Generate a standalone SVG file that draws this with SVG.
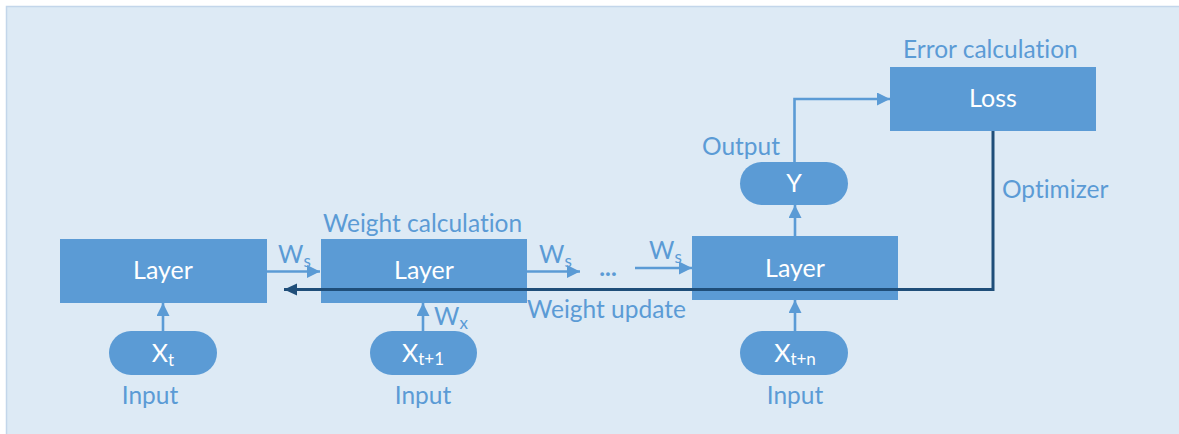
<svg xmlns="http://www.w3.org/2000/svg" width="1179" height="434" viewBox="0 0 1179 434">
  <defs>
    <style>
      text { font-variant-ligatures: none; }
      .box { fill: #5B9BD5; }
      .in { fill: #FFFFFF; font-family: Lato, "Liberation Sans", sans-serif; font-size: 25px; text-anchor: middle; }
      .lbl { fill: #5B9BD5; font-family: Lato, "Liberation Sans", sans-serif; font-size: 24.5px; }
      .mid { text-anchor: middle; }
      .sub { font-size: 17px; }
      .dots { font-weight: bold; }
      .flow { fill: none; stroke: #5B9BD5; stroke-width: 2.6; }
      .back { fill: none; stroke: #1F4E79; stroke-width: 3; }
    </style>
    <marker id="head" markerUnits="userSpaceOnUse" markerWidth="14" markerHeight="14" refX="13" refY="6.5" orient="auto">
      <path d="M0,0 L13,6.5 L0,13 Z" fill="#5B9BD5"/>
    </marker>
    <marker id="headDark" markerUnits="userSpaceOnUse" markerWidth="14" markerHeight="14" refX="13" refY="6" orient="auto">
      <path d="M0,0 L13,6 L0,12 Z" fill="#1F4E79"/>
    </marker>
  </defs>

  <!-- canvas -->
  <rect x="0" y="0" width="1179" height="434" fill="#FFFFFF"/>
  <rect x="6.5" y="6.5" width="1180" height="440" fill="#DDEAF5" stroke="#C3D6EA" stroke-width="1.5"/>

  <!-- connectors -->
  <g id="connectors">
    <line class="flow" x1="163" y1="331" x2="163" y2="303" marker-end="url(#head)"/>
    <line class="flow" x1="423" y1="331" x2="423" y2="303" marker-end="url(#head)"/>
    <line class="flow" x1="795" y1="331" x2="795" y2="300" marker-end="url(#head)"/>
    <line class="flow" x1="795" y1="236" x2="795" y2="205" marker-end="url(#head)"/>
    <line class="flow" x1="267" y1="271.5" x2="320" y2="271.5" marker-end="url(#head)"/>
    <line class="flow" x1="527" y1="271.5" x2="580" y2="271.5" marker-end="url(#head)"/>
    <line class="flow" x1="635" y1="268" x2="692" y2="268" marker-end="url(#head)"/>
    <polyline class="flow" points="794.5,162 794.5,99 890,99" marker-end="url(#head)"/>

    <text class="lbl" x="278" y="263">W<tspan class="sub" dy="4">s</tspan></text>
    <text class="lbl" x="539" y="263">W<tspan class="sub" dy="4">s</tspan></text>
    <text class="lbl" x="649" y="259">W<tspan class="sub" dy="4">s</tspan></text>
    <text class="lbl" x="434" y="325">W<tspan class="sub" dy="4">x</tspan></text>
    <text class="lbl mid dots" x="608" y="276">...</text>
    <text class="lbl" x="702" y="155">Output</text>
  </g>

  <!-- nodes -->
  <g id="layer1">
    <rect class="box" x="60" y="239" width="207" height="64"/>
    <text class="in" x="163" y="279">Layer</text>
  </g>
  <g id="layer2">
    <rect class="box" x="321" y="239" width="206" height="64"/>
    <text class="in" x="424" y="279">Layer</text>
    <text class="lbl" x="323" y="232">Weight calculation</text>
  </g>
  <g id="layer3">
    <rect class="box" x="692" y="236" width="206" height="64"/>
    <text class="in" x="795" y="277">Layer</text>
  </g>
  <g id="loss">
    <rect class="box" x="890" y="67" width="206" height="64"/>
    <text class="in" x="993" y="107">Loss</text>
    <text class="lbl" x="903" y="58">Error calculation</text>
  </g>
  <g id="output-y">
    <rect class="box" x="740" y="162" width="108" height="43" rx="21.5"/>
    <text class="in" x="794" y="192">Y</text>
  </g>
  <g id="input-t">
    <rect class="box" x="109" y="331" width="108" height="44" rx="22"/>
    <text class="in" x="163" y="362">X<tspan class="sub" dy="4">t</tspan></text>
    <text class="lbl mid" x="150" y="404">Input</text>
  </g>
  <g id="input-t1">
    <rect class="box" x="370" y="331" width="107" height="44" rx="22"/>
    <text class="in" x="423" y="362">X<tspan class="sub" dy="3">t+1</tspan></text>
    <text class="lbl mid" x="423" y="404">Input</text>
  </g>
  <g id="input-tn">
    <rect class="box" x="740" y="331" width="108" height="44" rx="22"/>
    <text class="in" x="795" y="362">X<tspan class="sub" dy="3">t+n</tspan></text>
    <text class="lbl mid" x="795" y="404">Input</text>
  </g>

  <!-- weight update path from the loss back to the first layer -->
  <g id="update">
    <polyline class="back" points="993,131 993,289.5 284,289.5" marker-end="url(#headDark)"/>
    <text class="lbl" x="1002" y="198">Optimizer</text>
    <text class="lbl" x="527" y="318">Weight update</text>
  </g>
</svg>
